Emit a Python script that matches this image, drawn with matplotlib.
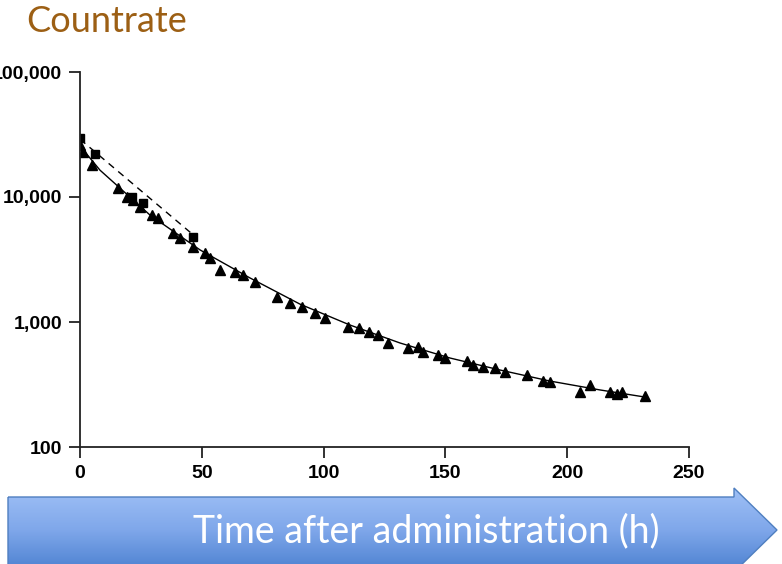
import numpy as np
import matplotlib
matplotlib.use("Agg")
import matplotlib.pyplot as plt
from matplotlib.patches import Polygon
from matplotlib.colors import LinearSegmentedColormap
from matplotlib.ticker import FixedLocator, NullLocator, FuncFormatter

tri_time = [0, 1.2, 4.9, 15.6, 19.3, 21.8, 24.6, 29.6, 32.0, 38.2, 41.1, 46.4,
            51.3, 53.4, 57.5, 63.6, 66.9, 71.8, 80.9, 86.2, 91.1, 96.5, 100.6,
            110.0, 114.5, 118.6, 122.3, 126.4, 134.6, 138.8, 140.8, 147.0, 149.8,
            158.9, 161.3, 165.4, 170.4, 174.5, 183.5, 190.1, 192.9, 205.3, 209.4,
            217.6, 220.4, 222.5, 231.9]
tri_count = [26000, 22900, 18000, 11800, 10000, 9460, 8320, 7180, 6790, 5150, 4700, 3980,
             3560, 3250, 2610, 2510, 2380, 2090, 1585, 1420, 1320, 1180, 1080,
             912, 895, 832, 787, 679, 619, 631, 575, 545, 515,
             488, 453, 437, 429, 398, 377, 337, 331, 275, 313,
             275, 265, 275, 256]

# early measurements (squares)
sq_time = [0, 6.2, 21.3, 25.9, 46.4]
sq_count = [29600, 22100, 10000, 8950, 4790]

# fitted curves
fit_time = [0, 8.2, 28.7, 49.3, 69.8, 90.3, 110.8, 131.4, 151.9, 172.4, 192.9, 213.5, 231.9]
fit_count = [25600, 16400, 7180, 3770, 2250, 1390, 946, 679, 515, 413, 337, 286, 251]
dash_time = [0, 48]
dash_count = [29000, 4700]

x_ticks = [0, 50, 100, 150, 200, 250]
y_ticks = [100, 1000, 10000, 100000]

W, H = 782, 564
fig = plt.figure(figsize=(W / 100, H / 100), dpi=100)

# background layer in pixel coordinates for title and arrow
bg = fig.add_axes([0, 0, 1, 1], zorder=-1)
bg.set_xlim(0, W)
bg.set_ylim(H, 0)
bg.axis("off")

bg.text(26, 22, "Countrate", color="#9C5F14", fontsize=26, family="Lato",
        ha="left", va="center")

arrow = Polygon([(8, 497), (734, 497), (734, 488), (777, 530), (734, 572),
                 (734, 566), (8, 566)], closed=True, facecolor="none",
                edgecolor="#4F7FC0", lw=1.0)
bg.add_patch(arrow)
grad = np.linspace(0, 1, 256).reshape(-1, 1)
cmap = LinearSegmentedColormap.from_list("blue", ["#9FC0F6", "#7FA7EA", "#4B80D0"])
im = bg.imshow(grad, cmap=cmap, extent=[8, 777, 572, 488], aspect="auto")
im.set_clip_path(arrow)
bg.set_xlim(0, W)
bg.set_ylim(H, 0)
bg.text(426, 531, "Time after administration (h)", color="white", fontsize=27,
        family="Lato", ha="center", va="center")

# main chart
ax = fig.add_axes([80 / W, 1 - 447 / H, 609 / W, 375 / H])
ax.set_yscale("log")
ax.set_xlim(0, 250)
ax.set_ylim(100, 100000)

ax.plot(fit_time, fit_count, color="black", lw=1.0)
ax.plot(dash_time, dash_count, color="black", lw=1.0, ls=(0, (5, 4)))
ax.plot(tri_time, tri_count, ls="none", marker="^", ms=7, color="black")
ax.plot(sq_time, sq_count, ls="none", marker="s", ms=6, color="black")

ax.spines["top"].set_visible(False)
ax.spines["right"].set_visible(False)
for s in ("left", "bottom"):
    ax.spines[s].set_linewidth(1.3)
    ax.spines[s].set_color("#222222")

ax.xaxis.set_major_locator(FixedLocator(x_ticks))
ax.yaxis.set_major_locator(FixedLocator(y_ticks))
ax.yaxis.set_minor_locator(NullLocator())
ax.yaxis.set_major_formatter(FuncFormatter(lambda v, p: f"{int(v):,}"))
ax.tick_params(direction="out", length=8, width=1.3, color="#222222",
               labelsize=14, pad=5)
for lab in ax.get_xticklabels() + ax.get_yticklabels():
    lab.set_fontfamily("Liberation Sans")
    lab.set_fontweight("bold")

fig.savefig("out.png", dpi=100)
